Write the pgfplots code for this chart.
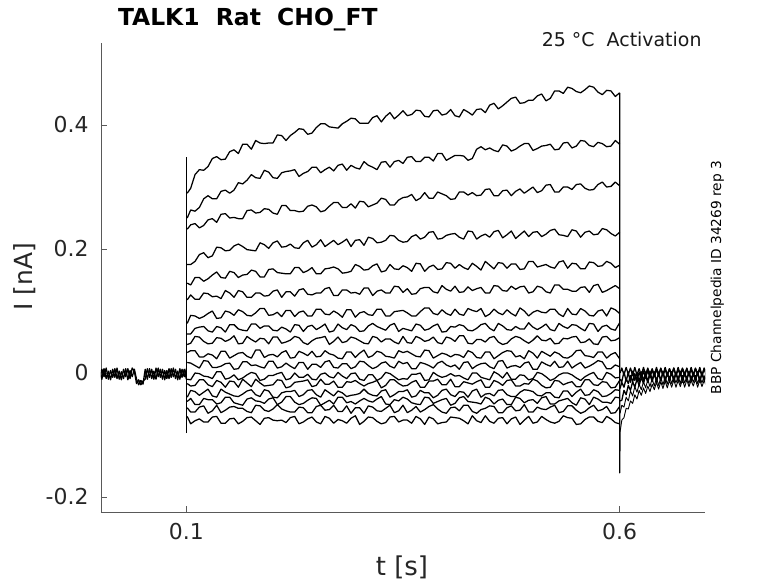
\documentclass[border=0pt]{standalone}
\usepackage{fontspec}
\setmainfont{DejaVu Sans}
\usepackage{pgfplots}
\usepackage{pgfplotstable}
\pgfplotsset{compat=1.18}

\pgfplotstableread{
t y1 y2 y3 y4 y5 y6 y7 y8 y9 y10 y11 y12 y13 y14 y15 y16 y17
0.101 0.290 0.250 0.232 0.175 0.145 0.118 0.080 0.063 0.046 0.033 0.017 -0.010 -0.017 -0.039 -0.046 -0.056 -0.070
0.105 0.298 0.263 0.239 0.175 0.142 0.126 0.093 0.063 0.048 0.036 0.016 -0.011 -0.021 -0.028 -0.041 -0.063 -0.082
0.110 0.320 0.261 0.241 0.180 0.154 0.119 0.092 0.072 0.059 0.036 0.012 0.000 -0.020 -0.030 -0.051 -0.063 -0.077
0.115 0.328 0.267 0.234 0.191 0.154 0.119 0.088 0.074 0.058 0.026 0.008 -0.001 -0.011 -0.036 -0.051 -0.055 -0.074
0.120 0.327 0.281 0.238 0.194 0.148 0.129 0.091 0.075 0.051 0.026 0.020 -0.005 -0.011 -0.031 -0.041 -0.053 -0.079
0.125 0.333 0.286 0.247 0.186 0.152 0.128 0.096 0.068 0.047 0.031 0.019 -0.006 -0.019 -0.026 -0.043 -0.065 -0.079
0.130 0.346 0.281 0.249 0.189 0.158 0.123 0.100 0.066 0.048 0.029 0.009 -0.009 -0.022 -0.037 -0.043 -0.061 -0.071
0.135 0.349 0.281 0.243 0.203 0.163 0.124 0.088 0.075 0.057 0.023 0.009 0.002 -0.012 -0.039 -0.050 -0.052 -0.070
0.140 0.344 0.293 0.256 0.202 0.154 0.120 0.089 0.073 0.056 0.035 0.011 0.002 -0.015 -0.026 -0.048 -0.064 -0.081
0.145 0.345 0.295 0.257 0.197 0.153 0.133 0.100 0.066 0.051 0.035 0.015 -0.010 -0.023 -0.031 -0.039 -0.060 -0.081
0.150 0.357 0.290 0.250 0.198 0.164 0.129 0.098 0.078 0.054 0.024 0.016 -0.008 -0.013 -0.034 -0.039 -0.055 -0.074
0.155 0.360 0.295 0.251 0.205 0.162 0.122 0.093 0.078 0.060 0.028 0.006 -0.003 -0.014 -0.037 -0.048 -0.054 -0.073
0.160 0.354 0.307 0.249 0.208 0.154 0.133 0.102 0.071 0.047 0.032 0.007 -0.011 -0.023 -0.038 -0.050 -0.057 -0.082
0.165 0.369 0.305 0.249 0.204 0.158 0.131 0.099 0.069 0.048 0.033 0.018 -0.008 -0.010 -0.034 -0.052 -0.057 -0.078
0.170 0.369 0.311 0.262 0.199 0.159 0.122 0.093 0.068 0.059 0.027 0.018 -0.003 -0.016 -0.029 -0.042 -0.062 -0.072
0.175 0.361 0.320 0.263 0.198 0.166 0.122 0.092 0.079 0.054 0.024 0.012 0.001 -0.022 -0.027 -0.040 -0.064 -0.071
0.180 0.375 0.315 0.258 0.197 0.164 0.129 0.097 0.079 0.050 0.037 0.013 -0.001 -0.010 -0.035 -0.045 -0.052 -0.077
0.185 0.371 0.314 0.259 0.210 0.155 0.129 0.104 0.072 0.056 0.037 0.010 -0.012 -0.016 -0.038 -0.046 -0.053 -0.083
0.190 0.370 0.327 0.265 0.207 0.155 0.124 0.104 0.076 0.055 0.025 0.008 -0.010 -0.021 -0.027 -0.049 -0.060 -0.073
0.195 0.371 0.324 0.264 0.201 0.167 0.125 0.093 0.076 0.047 0.029 0.019 -0.004 -0.020 -0.029 -0.042 -0.062 -0.072
0.200 0.371 0.315 0.258 0.210 0.168 0.132 0.094 0.069 0.058 0.030 0.019 -0.004 -0.019 -0.039 -0.040 -0.058 -0.076
0.205 0.384 0.314 0.256 0.213 0.162 0.134 0.098 0.068 0.058 0.026 0.008 -0.001 -0.011 -0.040 -0.051 -0.051 -0.077
0.210 0.383 0.323 0.270 0.203 0.161 0.122 0.091 0.074 0.048 0.033 0.010 0.001 -0.012 -0.032 -0.047 -0.058 -0.076
0.215 0.375 0.325 0.270 0.204 0.160 0.131 0.101 0.071 0.050 0.036 0.016 -0.011 -0.024 -0.030 -0.038 -0.061 -0.080
0.220 0.383 0.326 0.262 0.208 0.160 0.131 0.101 0.066 0.053 0.024 0.011 -0.009 -0.022 -0.030 -0.038 -0.063 -0.072
0.225 0.388 0.328 0.262 0.202 0.170 0.124 0.091 0.078 0.059 0.025 0.007 0.000 -0.015 -0.028 -0.047 -0.063 -0.070
0.230 0.394 0.317 0.260 0.201 0.170 0.134 0.098 0.077 0.057 0.035 0.017 -0.007 -0.014 -0.038 -0.051 -0.055 -0.082
0.235 0.393 0.322 0.261 0.210 0.162 0.136 0.100 0.067 0.049 0.032 0.017 -0.007 -0.013 -0.035 -0.049 -0.056 -0.079
0.240 0.385 0.325 0.269 0.214 0.165 0.127 0.092 0.075 0.046 0.028 0.006 -0.002 -0.011 -0.028 -0.044 -0.064 -0.074
0.245 0.387 0.332 0.271 0.203 0.170 0.126 0.092 0.077 0.052 0.035 0.014 -0.010 -0.022 -0.027 -0.040 -0.064 -0.071
0.250 0.396 0.332 0.268 0.207 0.160 0.129 0.103 0.070 0.056 0.026 0.014 -0.011 -0.020 -0.035 -0.041 -0.054 -0.079
0.255 0.402 0.323 0.260 0.215 0.160 0.129 0.103 0.074 0.057 0.027 0.009 -0.002 -0.010 -0.039 -0.052 -0.052 -0.082
0.260 0.402 0.328 0.262 0.204 0.168 0.136 0.095 0.079 0.059 0.036 0.018 0.000 -0.018 -0.027 -0.048 -0.060 -0.070
0.265 0.397 0.332 0.269 0.209 0.169 0.138 0.094 0.066 0.046 0.031 0.020 -0.006 -0.018 -0.032 -0.044 -0.059 -0.073
0.270 0.396 0.326 0.275 0.214 0.171 0.125 0.100 0.068 0.051 0.029 0.009 -0.008 -0.013 -0.037 -0.050 -0.052 -0.081
0.275 0.395 0.335 0.275 0.207 0.168 0.125 0.096 0.079 0.058 0.024 0.008 0.001 -0.023 -0.029 -0.039 -0.062 -0.075
0.280 0.402 0.337 0.267 0.211 0.161 0.134 0.090 0.073 0.049 0.023 0.015 -0.005 -0.023 -0.032 -0.039 -0.062 -0.077
0.285 0.406 0.327 0.267 0.216 0.162 0.134 0.102 0.070 0.051 0.034 0.015 -0.009 -0.014 -0.038 -0.048 -0.053 -0.081
0.290 0.411 0.335 0.273 0.204 0.164 0.129 0.102 0.078 0.058 0.034 0.007 -0.001 -0.015 -0.036 -0.046 -0.065 -0.073
0.295 0.410 0.331 0.266 0.214 0.175 0.130 0.090 0.075 0.056 0.025 0.010 0.000 -0.012 -0.035 -0.050 -0.056 -0.069
0.300 0.403 0.329 0.277 0.215 0.172 0.127 0.097 0.067 0.052 0.032 0.019 -0.010 -0.017 -0.033 -0.045 -0.056 -0.083
0.305 0.403 0.341 0.276 0.206 0.166 0.137 0.099 0.068 0.048 0.037 0.018 -0.012 -0.021 -0.026 -0.041 -0.065 -0.078
0.310 0.403 0.335 0.268 0.219 0.167 0.137 0.094 0.076 0.047 0.025 0.012 -0.003 -0.017 -0.033 -0.045 -0.053 -0.071
0.315 0.412 0.332 0.271 0.217 0.173 0.125 0.093 0.080 0.059 0.028 0.007 -0.003 -0.015 -0.036 -0.047 -0.055 -0.072
0.320 0.415 0.328 0.274 0.210 0.176 0.132 0.103 0.075 0.057 0.035 0.010 -0.012 -0.012 -0.037 -0.042 -0.061 -0.078
0.325 0.405 0.340 0.282 0.211 0.163 0.134 0.103 0.072 0.050 0.033 0.016 -0.008 -0.024 -0.029 -0.038 -0.062 -0.082
0.330 0.414 0.341 0.280 0.214 0.165 0.129 0.092 0.069 0.055 0.027 0.018 0.001 -0.020 -0.027 -0.050 -0.057 -0.080
0.335 0.420 0.332 0.271 0.222 0.175 0.129 0.092 0.077 0.055 0.026 0.011 -0.001 -0.011 -0.039 -0.051 -0.052 -0.071
0.340 0.410 0.341 0.271 0.221 0.168 0.140 0.099 0.080 0.050 0.024 0.008 -0.006 -0.011 -0.035 -0.043 -0.064 -0.070
0.345 0.416 0.343 0.279 0.214 0.167 0.139 0.100 0.067 0.047 0.036 0.019 -0.011 -0.017 -0.030 -0.045 -0.061 -0.079
0.350 0.423 0.338 0.283 0.211 0.173 0.130 0.101 0.072 0.059 0.033 0.015 -0.009 -0.021 -0.030 -0.039 -0.052 -0.076
0.355 0.415 0.348 0.284 0.212 0.170 0.136 0.097 0.070 0.049 0.035 0.017 -0.010 -0.020 -0.027 -0.042 -0.064 -0.076
0.360 0.417 0.349 0.288 0.220 0.164 0.127 0.092 0.068 0.048 0.031 0.007 -0.002 -0.015 -0.039 -0.048 -0.060 -0.081
0.365 0.424 0.341 0.278 0.223 0.177 0.128 0.092 0.079 0.059 0.027 0.007 -0.002 -0.012 -0.037 -0.050 -0.054 -0.070
0.370 0.423 0.341 0.282 0.216 0.176 0.136 0.099 0.077 0.056 0.026 0.017 0.000 -0.023 -0.028 -0.051 -0.063 -0.074
0.375 0.414 0.348 0.291 0.219 0.164 0.138 0.105 0.069 0.051 0.037 0.015 -0.012 -0.023 -0.032 -0.039 -0.059 -0.083
0.380 0.413 0.348 0.282 0.227 0.171 0.138 0.105 0.071 0.053 0.036 0.012 -0.011 -0.013 -0.032 -0.040 -0.054 -0.071
0.385 0.423 0.342 0.282 0.228 0.174 0.131 0.096 0.076 0.058 0.024 0.008 0.001 -0.013 -0.040 -0.049 -0.051 -0.074
0.390 0.424 0.354 0.292 0.216 0.167 0.129 0.094 0.079 0.049 0.028 0.016 -0.004 -0.010 -0.036 -0.046 -0.058 -0.082
0.395 0.416 0.354 0.289 0.217 0.168 0.141 0.102 0.066 0.047 0.032 0.019 -0.007 -0.019 -0.028 -0.043 -0.063 -0.080
0.400 0.418 0.343 0.286 0.222 0.178 0.135 0.096 0.067 0.058 0.030 0.013 -0.005 -0.019 -0.026 -0.041 -0.065 -0.079
0.405 0.425 0.347 0.280 0.224 0.177 0.132 0.093 0.075 0.056 0.026 0.010 -0.001 -0.010 -0.035 -0.052 -0.056 -0.071
0.410 0.415 0.351 0.281 0.225 0.169 0.140 0.103 0.074 0.051 0.030 0.013 -0.005 -0.022 -0.038 -0.049 -0.055 -0.072
0.415 0.413 0.351 0.292 0.219 0.175 0.130 0.095 0.078 0.060 0.029 0.006 -0.004 -0.022 -0.030 -0.040 -0.061 -0.073
0.420 0.425 0.350 0.292 0.216 0.170 0.131 0.093 0.076 0.060 0.025 0.017 -0.008 -0.014 -0.031 -0.038 -0.052 -0.077
0.425 0.421 0.343 0.287 0.229 0.167 0.139 0.104 0.069 0.048 0.036 0.018 -0.011 -0.016 -0.039 -0.046 -0.052 -0.082
0.430 0.416 0.346 0.291 0.228 0.177 0.133 0.101 0.068 0.047 0.033 0.007 0.000 -0.018 -0.029 -0.047 -0.062 -0.069
0.435 0.425 0.361 0.286 0.216 0.172 0.136 0.099 0.072 0.054 0.025 0.012 0.000 -0.014 -0.026 -0.048 -0.065 -0.077
0.440 0.426 0.365 0.287 0.221 0.166 0.138 0.104 0.078 0.054 0.024 0.015 -0.007 -0.011 -0.039 -0.050 -0.059 -0.080
0.445 0.420 0.360 0.296 0.224 0.180 0.129 0.091 0.080 0.050 0.034 0.016 -0.009 -0.023 -0.034 -0.039 -0.057 -0.069
0.450 0.432 0.363 0.297 0.219 0.174 0.129 0.095 0.072 0.057 0.034 0.010 -0.011 -0.023 -0.033 -0.042 -0.053 -0.078
0.455 0.435 0.359 0.286 0.228 0.168 0.141 0.103 0.068 0.059 0.023 0.007 0.002 -0.012 -0.037 -0.050 -0.054 -0.081
0.460 0.426 0.357 0.286 0.230 0.178 0.140 0.097 0.080 0.050 0.028 0.019 -0.002 -0.015 -0.028 -0.044 -0.064 -0.073
0.465 0.431 0.368 0.294 0.218 0.177 0.133 0.094 0.076 0.046 0.033 0.020 -0.008 -0.020 -0.027 -0.042 -0.064 -0.072
0.470 0.437 0.366 0.295 0.223 0.169 0.132 0.102 0.070 0.048 0.036 0.008 0.001 -0.012 -0.035 -0.051 -0.056 -0.082
0.475 0.443 0.358 0.286 0.229 0.176 0.140 0.096 0.069 0.055 0.035 0.011 -0.010 -0.011 -0.038 -0.051 -0.053 -0.074
0.480 0.445 0.361 0.293 0.217 0.176 0.135 0.092 0.075 0.059 0.026 0.012 -0.010 -0.021 -0.038 -0.039 -0.061 -0.071
0.485 0.435 0.366 0.297 0.223 0.167 0.139 0.105 0.071 0.057 0.028 0.009 -0.003 -0.021 -0.031 -0.041 -0.060 -0.083
0.490 0.436 0.370 0.290 0.229 0.168 0.140 0.100 0.071 0.052 0.023 0.016 -0.004 -0.017 -0.027 -0.048 -0.051 -0.076
0.495 0.440 0.370 0.295 0.220 0.180 0.129 0.092 0.081 0.048 0.036 0.018 -0.011 -0.018 -0.028 -0.044 -0.063 -0.070
0.500 0.440 0.359 0.300 0.227 0.180 0.131 0.098 0.074 0.053 0.032 0.006 -0.009 -0.010 -0.030 -0.043 -0.063 -0.081
0.505 0.447 0.362 0.291 0.228 0.171 0.140 0.101 0.070 0.060 0.024 0.006 0.001 -0.013 -0.036 -0.049 -0.055 -0.079
0.510 0.450 0.366 0.294 0.220 0.173 0.138 0.098 0.074 0.053 0.035 0.018 -0.001 -0.020 -0.037 -0.040 -0.058 -0.070
0.515 0.439 0.367 0.303 0.224 0.175 0.131 0.097 0.079 0.052 0.031 0.014 -0.006 -0.024 -0.032 -0.038 -0.059 -0.075
0.520 0.443 0.369 0.304 0.230 0.171 0.129 0.103 0.070 0.056 0.027 0.011 -0.012 -0.023 -0.032 -0.050 -0.055 -0.079
0.525 0.455 0.360 0.292 0.232 0.169 0.142 0.103 0.068 0.047 0.034 0.019 -0.009 -0.012 -0.039 -0.050 -0.052 -0.081
0.530 0.455 0.361 0.292 0.223 0.179 0.142 0.095 0.080 0.048 0.031 0.009 -0.003 -0.013 -0.040 -0.045 -0.064 -0.078
0.535 0.451 0.371 0.300 0.222 0.181 0.135 0.091 0.075 0.056 0.025 0.010 0.000 -0.019 -0.029 -0.043 -0.062 -0.069
0.540 0.461 0.372 0.300 0.220 0.169 0.135 0.104 0.072 0.055 0.024 0.019 0.000 -0.016 -0.029 -0.041 -0.053 -0.072
0.545 0.459 0.363 0.296 0.231 0.177 0.132 0.095 0.078 0.058 0.028 0.008 -0.003 -0.014 -0.038 -0.048 -0.053 -0.073
0.550 0.454 0.366 0.304 0.229 0.176 0.132 0.094 0.077 0.059 0.036 0.013 -0.008 -0.022 -0.031 -0.052 -0.060 -0.083
0.555 0.452 0.375 0.305 0.219 0.168 0.138 0.104 0.072 0.049 0.037 0.017 -0.012 -0.022 -0.026 -0.040 -0.065 -0.082
0.560 0.457 0.374 0.298 0.227 0.168 0.139 0.100 0.068 0.050 0.028 0.008 -0.006 -0.011 -0.036 -0.042 -0.062 -0.075
0.565 0.463 0.367 0.295 0.229 0.179 0.130 0.093 0.080 0.055 0.027 0.011 -0.002 -0.011 -0.035 -0.051 -0.056 -0.071
0.570 0.461 0.365 0.296 0.223 0.178 0.141 0.092 0.079 0.047 0.025 0.015 0.001 -0.019 -0.027 -0.039 -0.052 -0.071
0.575 0.453 0.372 0.304 0.224 0.172 0.143 0.100 0.067 0.046 0.034 0.020 -0.009 -0.020 -0.030 -0.042 -0.061 -0.078
0.580 0.449 0.370 0.308 0.233 0.173 0.130 0.102 0.075 0.058 0.034 0.018 -0.011 -0.014 -0.038 -0.047 -0.059 -0.080
0.585 0.456 0.365 0.300 0.231 0.180 0.133 0.092 0.077 0.059 0.024 0.007 0.001 -0.015 -0.037 -0.047 -0.054 -0.070
0.590 0.455 0.366 0.301 0.225 0.177 0.137 0.105 0.071 0.052 0.030 0.007 -0.002 -0.024 -0.033 -0.049 -0.065 -0.074
0.595 0.446 0.375 0.308 0.221 0.170 0.141 0.102 0.069 0.053 0.033 0.013 -0.008 -0.023 -0.027 -0.039 -0.064 -0.080
0.600 0.452 0.369 0.302 0.227 0.174 0.136 0.096 0.081 0.057 0.023 0.010 -0.007 -0.012 -0.028 -0.040 -0.054 -0.082
}\traces

\pgfplotstableread{
t a b
0.0000 0.004 -0.009
0.0025 -0.010 0.006
0.0050 0.007 -0.006
0.0075 -0.009 0.008
0.0100 0.003 -0.010
0.0125 -0.011 0.004
0.0150 0.006 -0.007
0.0175 -0.007 0.007
0.0200 0.008 -0.009
0.0225 -0.010 0.003
0.0250 0.002 -0.011
0.0275 -0.009 0.006
0.0300 0.007 -0.006
0.0325 -0.011 0.007
0.0350 0.004 -0.009
0.0375 -0.006 0.008
0.0400 0.006 0.003
0.0425 -0.010 -0.017
0.0450 -0.019 -0.011
0.0475 -0.012 -0.019
0.0500 -0.018 -0.013
0.0525 0.006 -0.010
0.0550 -0.010 0.007
0.0575 0.007 -0.007
0.0600 -0.009 0.006
0.0625 0.003 -0.010
0.0650 -0.010 0.008
0.0675 0.008 -0.006
0.0700 -0.007 0.006
0.0725 0.006 -0.010
0.0750 -0.011 0.004
0.0775 0.004 -0.009
0.0800 -0.009 0.007
0.0825 0.007 -0.007
0.0850 -0.006 0.008
0.0875 0.006 -0.009
0.0900 -0.011 0.003
0.0925 0.007 -0.010
0.0950 -0.007 0.006
0.0975 0.006 -0.006
0.1000 -0.010 0.007
}\pre

\pgfplotstableread{
t p1 p2 p3 p4 p5 p6
0.6005 -0.095 -0.065 -0.045 -0.025 0.000 -0.010
0.6025 -0.076 -0.052 -0.044 -0.015 0.008 -0.014
0.6050 -0.072 -0.055 -0.028 -0.023 -0.003 0.002
0.6075 -0.057 -0.039 -0.035 -0.009 0.009 -0.013
0.6100 -0.058 -0.045 -0.020 -0.017 -0.002 0.001
0.6125 -0.045 -0.029 -0.028 -0.004 0.008 -0.015
0.6150 -0.049 -0.037 -0.014 -0.014 -0.004 0.003
0.6175 -0.035 -0.022 -0.023 -0.001 0.009 -0.012
0.6200 -0.042 -0.031 -0.010 -0.011 -0.003 0.000
0.6225 -0.028 -0.018 -0.020 0.001 0.007 -0.014
0.6250 -0.036 -0.027 -0.007 -0.009 -0.004 0.002
0.6275 -0.024 -0.014 -0.017 0.003 0.009 -0.013
0.6300 -0.033 -0.024 -0.004 -0.008 -0.002 0.001
0.6325 -0.021 -0.011 -0.015 0.004 0.008 -0.015
0.6350 -0.030 -0.022 -0.002 -0.007 -0.004 0.003
0.6375 -0.018 -0.009 -0.014 0.005 0.007 -0.012
0.6400 -0.027 -0.021 -0.001 -0.006 -0.003 0.002
0.6425 -0.015 -0.008 -0.013 0.006 0.009 -0.014
0.6450 -0.026 -0.020 0.000 -0.005 -0.002 0.000
0.6475 -0.014 -0.007 -0.012 0.007 0.008 -0.013
0.6500 -0.025 -0.019 0.001 -0.004 -0.004 0.003
0.6525 -0.013 -0.006 -0.011 0.006 0.009 -0.015
0.6550 -0.024 -0.018 0.000 -0.005 -0.003 0.001
0.6575 -0.012 -0.005 -0.012 0.007 0.007 -0.012
0.6600 -0.023 -0.017 0.002 -0.004 -0.002 0.002
0.6625 -0.011 -0.006 -0.010 0.008 0.008 -0.014
0.6650 -0.023 -0.016 0.001 -0.005 -0.004 0.000
0.6675 -0.012 -0.005 -0.011 0.006 0.009 -0.013
0.6700 -0.022 -0.017 0.000 -0.004 -0.003 0.003
0.6725 -0.010 -0.004 -0.012 0.007 0.008 -0.015
0.6750 -0.023 -0.016 0.001 -0.005 -0.002 0.001
0.6775 -0.011 -0.006 -0.010 0.008 0.007 -0.012
0.6800 -0.022 -0.017 0.002 -0.004 -0.004 0.002
0.6825 -0.012 -0.005 -0.011 0.006 0.009 -0.014
0.6850 -0.021 -0.015 0.000 -0.005 -0.003 0.000
0.6875 -0.010 -0.004 -0.010 0.007 0.008 -0.013
0.6900 -0.023 -0.017 0.001 -0.003 -0.002 0.002
0.6925 -0.011 -0.006 -0.012 0.006 0.009 -0.015
0.6950 -0.022 -0.016 -0.001 -0.005 -0.004 0.001
0.6975 -0.012 -0.005 -0.011 0.008 0.007 -0.012
0.7000 -0.021 -0.015 0.000 -0.004 -0.003 0.002
}\post

\begin{document}
\begin{tikzpicture}
\begin{axis}[
  at={(0,0)}, anchor=south west,
  scale only axis, width=604bp, height=469bp,
  xmin=0.0015, xmax=0.6985, ymin=-0.2242, ymax=0.5323,
  axis x line*=bottom, axis y line*=left,
  axis line style={black!65, line width=0.7bp},
  xtick={0.1,0.6}, xticklabels={0.1,0.6},
  ytick={-0.2,0,0.2,0.4}, yticklabels={-0.2,0,0.2,0.4},
  tick align=inside, major tick length=6bp,
  tick style={black!65, line width=0.7bp},
  ticklabel style={font=\fontsize{22}{26}\selectfont, text=black!85},
  xticklabel style={yshift=-7.5bp},
  yticklabel style={xshift=-9bp},
  trace/.style={black, line width=1.25bp, line join=round, no markers},
  thin trace/.style={black, line width=1.3bp, line join=round, no markers},
  tail trace/.style={black, line width=0.9bp, line join=round, no markers},
]
\pgfplotsinvokeforeach{1,...,17}{
  \addplot[trace] table[x=t, y=y#1] {\traces};
}
\addplot[thin trace] table[x=t, y=a] {\pre};
\addplot[thin trace] table[x=t, y=b] {\pre};
\addplot[black, line width=1.6bp, no markers] coordinates {(0.1,-0.097) (0.1,0.348)};
\addplot[trace] coordinates {(0.6,0.452) (0.6,-0.161) (0.6005,-0.095)};
\addplot[tail trace] table[x=t, y=p1] {\post};
\addplot[tail trace] table[x=t, y=p2] {\post};
\addplot[thin trace] table[x=t, y=p3] {\post};
\addplot[thin trace] table[x=t, y=p4] {\post};
\addplot[thin trace] table[x=t, y=p5] {\post};
\addplot[thin trace] table[x=t, y=p6] {\post};
\end{axis}
\node[anchor=base west, font=\bfseries\fontsize{23.5}{28}\selectfont] at (13.5bp,486bp) {TALK1\ \ Rat\ \ CHO\_FT};
\node[anchor=base east, font=\fontsize{19}{23}\selectfont, text=black!90] at (604bp,465bp) {25 °C\ \ Activation};
\node[rotate=90, anchor=base, font=\fontsize{13.8}{16}\selectfont] at (620bp,234.5bp) {BBP Channelpedia ID 34269 rep 3};
\node[rotate=90, font=\fontsize{25}{30}\selectfont, text=black!85] at (-76bp,235.5bp) {I [nA]};
\node[font=\fontsize{26}{30}\selectfont, text=black!85] at (301bp,-55.5bp) {t [s]};
\pgfresetboundingbox
\path[use as bounding box] (-101bp,-71bp) rectangle (677bp,512bp);
\end{tikzpicture}
\end{document}
